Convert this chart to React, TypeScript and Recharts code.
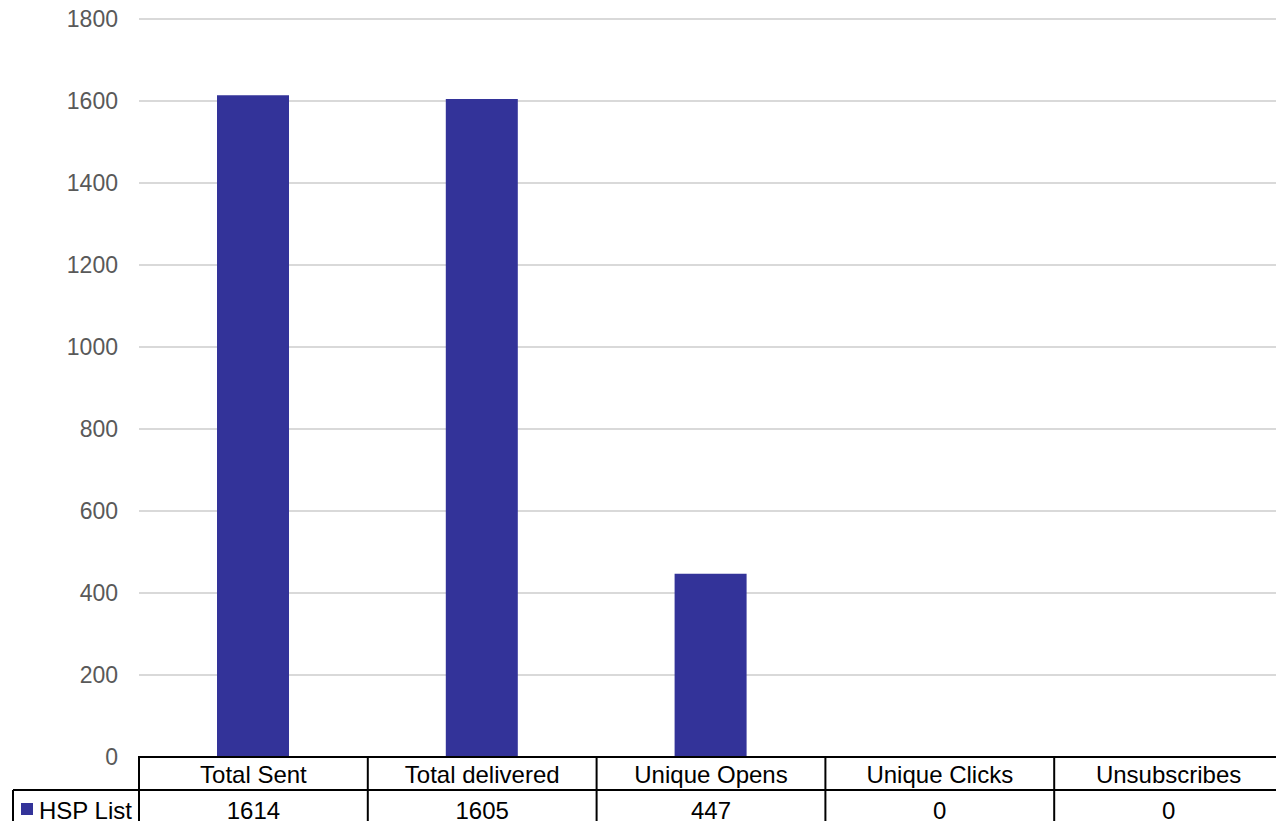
import { BarChart, Bar, XAxis, YAxis, CartesianGrid } from 'recharts'

const categories = ['Total Sent', 'Total delivered', 'Unique Opens', 'Unique Clicks', 'Unsubscribes']
const hspList = [1614, 1605, 447, 0, 0]
const yTicks = [0, 200, 400, 600, 800, 1000, 1200, 1400, 1600, 1800]
const seriesName = 'HSP List'

const data = categories.map((name, i) => ({ name, value: hspList[i] }))

const W = 1283
const H = 821
const AXIS_W = 139
const AXIS_H = 64
const BAND = (W - AXIS_W) / categories.length
const FONT = '"Liberation Sans", Arial, sans-serif'
const BAR_COLOR = '#333399'

function TableTick(props: { x?: number; y?: number; index?: number; payload?: { value: string; index?: number } }) {
  const { x = 0, payload } = props
  if (!payload) return null
  const idx = categories.indexOf(payload.value)
  const top = H - AXIS_H
  const row = top + 33
  return (
    <g>
      {idx === 0 && (
        <g>
          <line x1={x - BAND / 2} y1={top - 1} x2={x - BAND / 2} y2={H} stroke="#000" strokeWidth={2} />
          <line x1={13} y1={row} x2={W} y2={row} stroke="#000" strokeWidth={2} />
          <line x1={13} y1={row} x2={13} y2={H} stroke="#000" strokeWidth={2} />
          <rect x={21} y={803} width={12} height={12} fill={BAR_COLOR} />
          <text x={39} y={810} dy="0.36em" fontSize={24} fill="#000" fontFamily={FONT}>
            {seriesName}
          </text>
        </g>
      )}
      <line x1={x + BAND / 2} y1={top - 1} x2={x + BAND / 2} y2={H} stroke="#000" strokeWidth={2} />
      <text x={x} y={top + 17} dy="0.36em" textAnchor="middle" fontSize={24} fill="#000" fontFamily={FONT}>
        {payload.value}
      </text>
      <text x={x} y={810} dy="0.36em" textAnchor="middle" fontSize={24} fill="#000" fontFamily={FONT}>
        {hspList[idx]}
      </text>
    </g>
  )
}

export default function App() {
  return (
    <div style={{ position: 'absolute', left: 0, top: 0, width: 1276, height: 821, overflow: 'hidden', background: '#fff' }}>
      <BarChart width={W} height={H} data={data} margin={{ top: 19, right: 0, left: 0, bottom: 0 }}>
        <CartesianGrid vertical={false} stroke="#d9d9d9" strokeWidth={2} />
        <XAxis
          dataKey="name"
          height={AXIS_H}
          axisLine={{ stroke: '#000', strokeWidth: 2 }}
          tickLine={false}
          interval={0}
          tick={<TableTick />}
        />
        <YAxis
          width={AXIS_W}
          domain={[0, 1800]}
          ticks={yTicks}
          axisLine={false}
          tickLine={false}
          tickSize={0}
          tickMargin={21}
          tick={{ fill: '#595959', fontSize: 23, fontFamily: FONT }}
        />
        <Bar dataKey="value" fill={BAR_COLOR} barSize={72} isAnimationActive={false} />
      </BarChart>
    </div>
  )
}
